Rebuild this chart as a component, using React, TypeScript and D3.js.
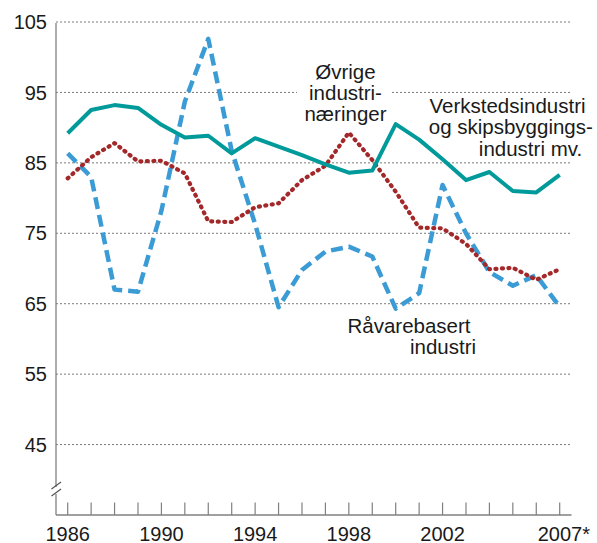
import React from "react";
import * as d3 from "d3";

const years = d3.range(1986, 2008);
const yTicks = [45, 55, 65, 75, 85, 95, 105];
const xLabelYears = [1986, 1990, 1994, 1998, 2002];
const lastLabel = "2007*";

const verksted = [89.2, 92.5, 93.2, 92.8, 90.4, 88.6, 88.85, 86.35, 88.5, 87.3, 86.1, 84.8, 83.6, 83.9, 90.5, 88.3, 85.5, 82.55, 83.7, 81.0, 80.8, 83.3];
const ovrige = [82.8, 85.8, 87.8, 85.2, 85.3, 83.5, 76.7, 76.6, 78.7, 79.25, 82.55, 84.6, 89.3, 85.4, 80.9, 75.8, 75.7, 73.5, 69.9, 70.1, 68.4, 69.9];
const ravare = [86.35, 83.0, 67.0, 66.7, 78.2, 93.7, 102.6, 86.7, 76.3, 64.5, 69.8, 72.4, 73.1, 71.7, 64.3, 66.5, 81.85, 75.0, 69.5, 67.55, 69.05, 64.55];

const labelOvrige = ["Øvrige", "industri-", "næringer"];
const labelVerksted = ["Verkstedsindustri", "og skipsbyggings-", "industri mv."];
const labelRavare = ["Råvarebasert", "industri"];

const W = 597;
const H = 543;
const FONT = "'Liberation Sans', Arial, Helvetica, sans-serif";

export default function App() {
  const x = d3.scaleLinear().domain([1986, 2007]).range([67.7, 559.7]);
  const y = d3.scaleLinear().domain([35, 105]).range([515, 22]);
  const axisX = 56;
  const axisY = 515;
  const gridEnd = 571.5;

  const line = d3
    .line<number>()
    .x((_, i) => x(years[i]))
    .y((d) => y(d));

  const textColor = "#1a1a1a";

  return (
    <svg
      width={W}
      height={H}
      style={{ position: "absolute", left: 0, top: 0, display: "block", background: "#fff" }}
      fontFamily={FONT}
    >
      {/* gridlines */}
      {yTicks.map((t) => (
        <line
          key={"g" + t}
          x1={axisX}
          x2={gridEnd}
          y1={y(t)}
          y2={y(t)}
          stroke="#7a7a7a"
          strokeWidth={1}
          strokeDasharray="2,2"
        />
      ))}
      {/* y labels */}
      {yTicks.map((t) => (
        <text
          key={"yl" + t}
          x={47}
          y={y(t)}
          dy="0.36em"
          textAnchor="end"
          fontSize={20}
          fill={textColor}
        >
          {t}
        </text>
      ))}
      {/* y axis with break */}
      <line x1={axisX} x2={axisX} y1={y(105) + 1} y2={487} stroke="#808080" strokeWidth={1.3} />
      <line x1={axisX} x2={axisX} y1={494} y2={axisY} stroke="#808080" strokeWidth={1.3} />
      <line x1={51.5} x2={61} y1={489} y2={482} stroke="#555" strokeWidth={1.2} />
      <line x1={51.5} x2={61} y1={496} y2={489} stroke="#555" strokeWidth={1.2} />
      {/* x axis */}
      <line x1={axisX} x2={gridEnd} y1={axisY} y2={axisY} stroke="#808080" strokeWidth={1.3} />
      {years.map((yr) => (
        <line
          key={"t" + yr}
          x1={x(yr)}
          x2={x(yr)}
          y1={axisY}
          y2={axisY - 12.5}
          stroke="#808080"
          strokeWidth={1.2}
        />
      ))}
      {xLabelYears.map((yr) => (
        <text key={"xl" + yr} x={x(yr)} y={540.5} textAnchor="middle" fontSize={20} fill={textColor}>
          {yr}
        </text>
      ))}
      <text x={x(2007) - 22} y={540.5} textAnchor="start" fontSize={20} fill={textColor}>
        {lastLabel}
      </text>

      {/* white background behind Øvrige label */}
      <rect x={297} y={62} width={95} height={64} fill="#fff" />

      {/* series */}
      <path
        d={line(ravare) || ""}
        fill="none"
        stroke="#3a9bd5"
        strokeWidth={4.5}
        strokeDasharray="12,6"
        strokeLinejoin="round"
      />
      <path
        d={line(ovrige) || ""}
        fill="none"
        stroke="#a3282a"
        strokeWidth={4.2}
        strokeDasharray="1,5.5"
        strokeLinecap="round"
        strokeLinejoin="round"
      />
      <path
        d={line(verksted) || ""}
        fill="none"
        stroke="#009a9a"
        strokeWidth={4}
        strokeLinejoin="round"
      />

      {/* labels */}
      {labelOvrige.map((s, i) => (
        <text key={"lo" + i} x={345.5} y={79 + i * 21} textAnchor="middle" fontSize={20.5} fill={textColor}>
          {s}
        </text>
      ))}
      {labelVerksted.map((s, i) => (
        <text
          key={"lv" + i}
          x={[507.5, 510.8, 530.5][i]}
          y={112.7 + i * 21.6}
          textAnchor="middle"
          fontSize={20.5}
          fill={textColor}
        >
          {s}
        </text>
      ))}
      {labelRavare.map((s, i) => (
        <text
          key={"lr" + i}
          x={[409, 443][i]}
          y={332.7 + i * 21.3}
          textAnchor="middle"
          fontSize={20.5}
          fill={textColor}
        >
          {s}
        </text>
      ))}
    </svg>
  );
}
